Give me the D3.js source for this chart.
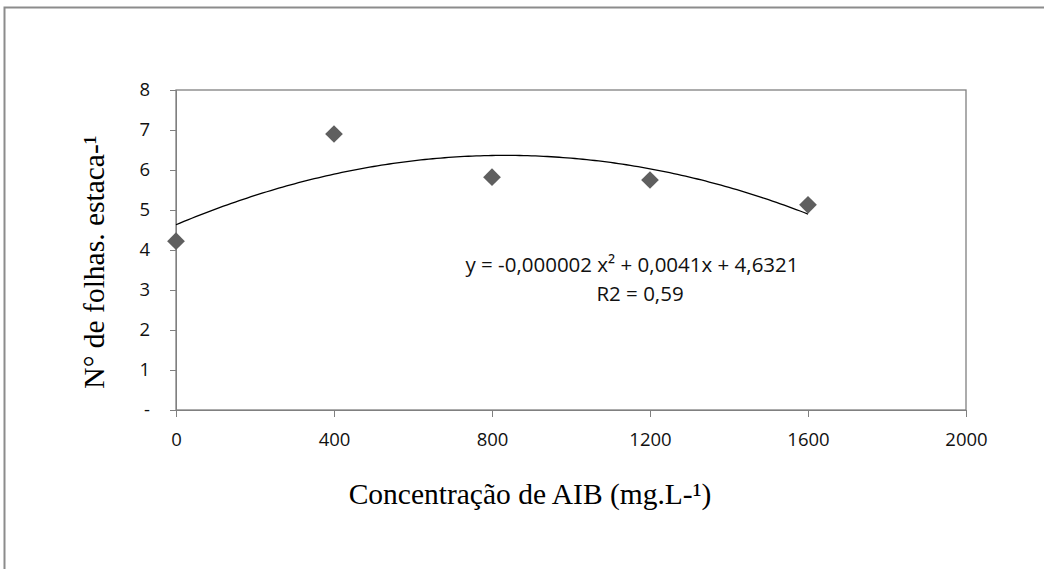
<!DOCTYPE html>
<html>
<head>
<meta charset="utf-8">
<script src="https://cdn.jsdelivr.net/npm/d3@7"></script>
<style>
  body { margin: 0; background: #fff; }
  .tick text { font-family: "Open Sans", sans-serif; font-size: 18.5px; fill: #111; }
</style>
</head>
<body>
<script>
// data
const doses = [0, 400, 800, 1200, 1600];
const folhas = [4.22, 6.9, 5.82, 5.75, 5.13];
const xTicks = [0, 400, 800, 1200, 1600, 2000];
const yTicks = [0, 1, 2, 3, 4, 5, 6, 7, 8];
const eqText = "y = -0,000002 x² + 0,0041x + 4,6321";
const r2Text = "R2 = 0,59";

const w = 1044, h = 569;
const m = { left: 176, top: 90, right: 966, bottom: 410 };

let svg = d3.select("body").append("svg")
  .attr("width", w)
  .attr("height", h);

// outer frame (only top + left visible)
svg.append("path")
  .attr("d", `M4.5,${h} V7.5 H${w}`)
  .attr("fill", "none")
  .attr("stroke", "#8c8c8c")
  .attr("stroke-width", 2);

let x = d3.scaleLinear().domain([0, 2000]).range([m.left, m.right]);
let y = d3.scaleLinear().domain([0, 8]).range([m.bottom, m.top]);

// plot area border
svg.append("rect")
  .attr("x", m.left).attr("y", m.top)
  .attr("width", m.right - m.left).attr("height", m.bottom - m.top)
  .attr("fill", "none")
  .attr("stroke", "#808080")
  .attr("stroke-width", 1.3);

// axes
let yAxis = d3.axisLeft(y).tickValues(yTicks)
  .tickSize(6).tickPadding(20)
  .tickFormat((d) => d === 0 ? "-" : d);
svg.append("g").attr("transform", `translate(${m.left},0)`).call(yAxis);

let xAxis = d3.axisBottom(x).tickValues(xTicks)
  .tickSize(7).tickPadding(16)
  .tickFormat((d) => d);
svg.append("g").attr("transform", `translate(0,${m.bottom})`).call(xAxis);

svg.selectAll(".domain").attr("stroke", "#808080");
svg.selectAll(".tick line").attr("stroke", "#808080");

// polynomial trend line, least squares fit of order 2
function fitQuad(xs, ys) {
  let S = [0, 0, 0, 0, 0], T = [0, 0, 0];
  xs.forEach((xv, i) => {
    for (let k = 0; k < 5; k++) S[k] += Math.pow(xv, k);
    for (let k = 0; k < 3; k++) T[k] += Math.pow(xv, k) * ys[i];
  });
  let A = [[S[0], S[1], S[2], T[0]], [S[1], S[2], S[3], T[1]], [S[2], S[3], S[4], T[2]]];
  for (let i = 0; i < 3; i++) {
    for (let j = i + 1; j < 3; j++) {
      let f = A[j][i] / A[i][i];
      for (let k = i; k < 4; k++) A[j][k] -= f * A[i][k];
    }
  }
  let c = [0, 0, 0];
  for (let i = 2; i >= 0; i--) {
    let s = A[i][3];
    for (let k = i + 1; k < 3; k++) s -= A[i][k] * c[k];
    c[i] = s / A[i][i];
  }
  return c;
}
const coef = fitQuad(doses, folhas);
const trend = d3.range(0, 1601, 10).map((v) => [v, coef[0] + coef[1] * v + coef[2] * v * v]);

svg.append("path")
  .datum(trend)
  .attr("fill", "none")
  .attr("stroke", "#000")
  .attr("stroke-width", 1.3)
  .attr("d", d3.line().x((d) => x(d[0])).y((d) => y(d[1])));

// diamonds
svg.append("g")
  .selectAll("path")
  .data(doses)
  .enter()
  .append("path")
  .attr("transform", (d, i) => `translate(${x(d)},${y(folhas[i])})`)
  .attr("d", d3.symbol().type(d3.symbolDiamond2).size(200))
  .attr("fill", "#5f5f5f");

// equation label
svg.append("text")
  .attr("x", 632).attr("y", 272)
  .attr("text-anchor", "middle")
  .style("font-family", "'Open Sans', sans-serif")
  .style("font-size", "20.5px")
  .attr("fill", "#111")
  .text(eqText);
svg.append("text")
  .attr("x", 640).attr("y", 301)
  .attr("text-anchor", "middle")
  .style("font-family", "'Open Sans', sans-serif")
  .style("font-size", "20.5px")
  .attr("fill", "#111")
  .text(r2Text);

// axis titles
svg.append("text")
  .attr("x", 530).attr("y", 504)
  .attr("text-anchor", "middle")
  .style("font-family", "'Liberation Serif', serif")
  .style("font-size", "29.5px")
  .text("Concentração de AIB (mg.L-¹)");

svg.append("text")
  .attr("transform", "translate(104,262) rotate(-90)")
  .attr("text-anchor", "middle")
  .style("font-family", "'Liberation Serif', serif")
  .style("font-size", "29.5px")
  .text("N° de folhas. estaca-¹");
</script>
</body>
</html>
